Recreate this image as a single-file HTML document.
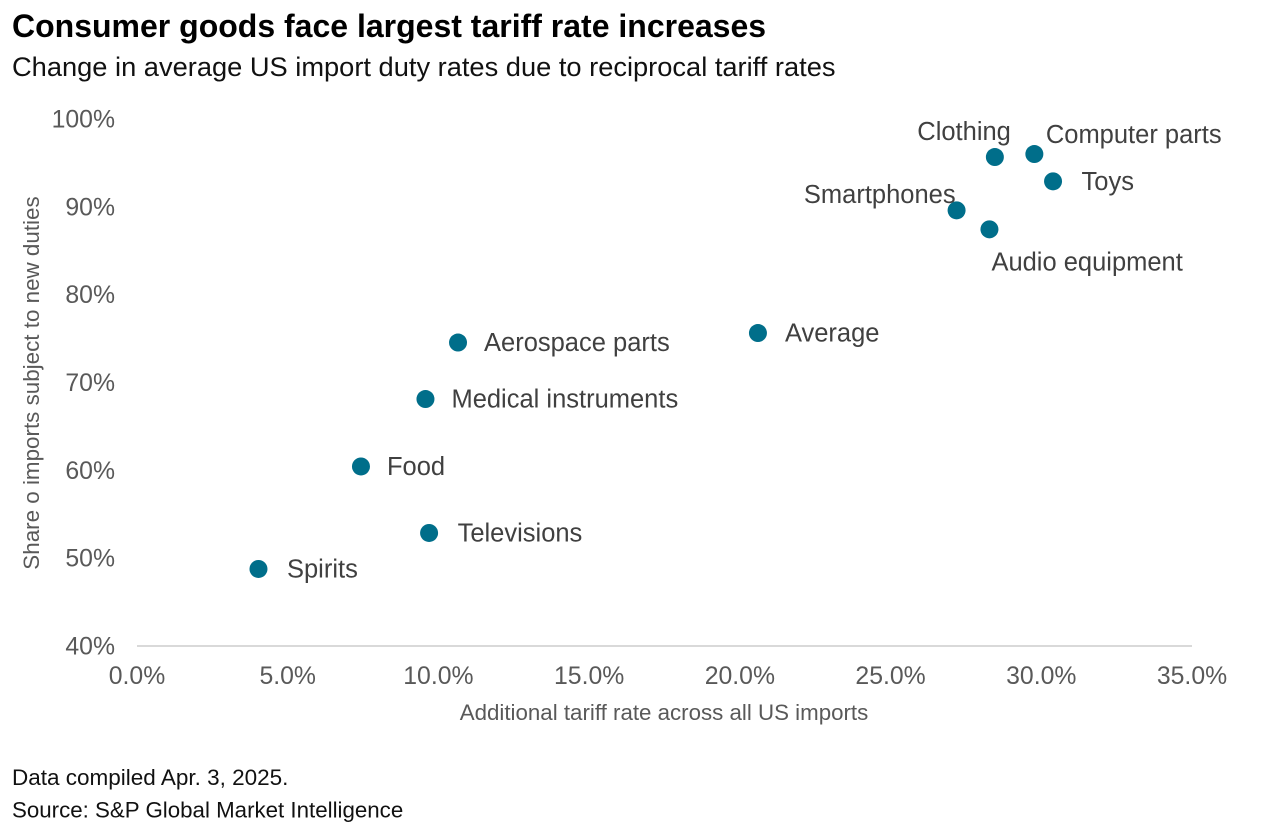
<!DOCTYPE html>
<html>
<head>
<meta charset="utf-8">
<style>
html,body{margin:0;padding:0;background:#fff;}
svg{display:block;font-family:"Liberation Sans",sans-serif;}
</style>
</head>
<body>
<svg id="chart" width="1264" height="830" viewBox="0 0 1264 830">
<text x="12" y="37" font-size="32" font-weight="700" fill="#000">Consumer goods face largest tariff rate increases</text>
<text x="12" y="76" font-size="27.25" fill="#111">Change in average US import duty rates due to reciprocal tariff rates</text>
<line x1="137" y1="646" x2="1192" y2="646" stroke="#d9d9d9" stroke-width="2"></line>
<g id="yticks"></g>
<g id="xticks"></g>
<text x="664" y="720" font-size="22.3" fill="#595959" text-anchor="middle">Additional tariff rate across all US imports</text>
<text transform="translate(39,383) rotate(-90)" font-size="22.4" fill="#595959" text-anchor="middle">Share o imports subject to new duties</text>
<g id="points"></g>
<text x="12" y="785" font-size="22.5" fill="#111">Data compiled Apr. 3, 2025.</text>
<text x="12" y="817.5" font-size="22.3" fill="#111">Source: S&amp;P Global Market Intelligence</text>
</svg>
<script>
const categories = ["Clothing","Computer parts","Toys","Smartphones","Audio equipment","Average","Aerospace parts","Medical instruments","Food","Televisions","Spirits"];
const tariffRates = [28.46,29.77,30.39,27.19,28.28,20.6,10.65,9.57,7.43,9.69,4.03];
const importShares = [95.67,96.01,92.9,89.6,87.44,75.63,74.55,68.12,60.44,52.87,48.77];
const labelPlacement = ["above-left","above-right","right-far","upper-left","below","right","right-near","right-near","right-near","right-far","right-far"];
const xTickValues = [0,5,10,15,20,25,30,35];
const yTickValues = [40,50,60,70,80,90,100];

const NS = "http://www.w3.org/2000/svg";
const xScale = v => 137 + (v / 35) * 1055;
const yScale = v => 646 - ((v - 40) / 60) * 527;

const yticks = document.getElementById("yticks");
yTickValues.forEach(v => {
  const t = document.createElementNS(NS, "text");
  t.setAttribute("x", 115);
  t.setAttribute("y", yScale(v) + 8.5);
  t.setAttribute("font-size", "24.8");
  t.setAttribute("fill", "#595959");
  t.setAttribute("text-anchor", "end");
  
  
  t.textContent = v + "%";
  yticks.appendChild(t);
});

const xticks = document.getElementById("xticks");
xTickValues.forEach(v => {
  const t = document.createElementNS(NS, "text");
  t.setAttribute("x", xScale(v));
  t.setAttribute("y", 684);
  t.setAttribute("font-size", "24.8");
  t.setAttribute("fill", "#595959");
  t.setAttribute("text-anchor", "middle");
  
  
  t.textContent = v.toFixed(1) + "%";
  xticks.appendChild(t);
});

const points = document.getElementById("points");
categories.forEach((name, i) => {
  const cx = xScale(tariffRates[i]);
  const cy = yScale(importShares[i]);
  const c = document.createElementNS(NS, "circle");
  c.setAttribute("cx", cx);
  c.setAttribute("cy", cy);
  c.setAttribute("r", 9);
  c.setAttribute("fill", "#006e8a");
  
  
  points.appendChild(c);

  const t = document.createElementNS(NS, "text");
  const place = labelPlacement[i];
  let lx = cx + 27, ly = cy + 8.5, anchor = "start";
  if (place === "right-near") { lx = cx + 26; }
  if (place === "right-far") { lx = cx + 28.5; }
  if (place === "above-left") { lx = cx + 16; ly = cy - 17; anchor = "end"; }
  if (place === "upper-left") { lx = cx - 1; ly = cy - 7.5; anchor = "end"; }
  if (place === "above-right") { lx = cx + 11.5; ly = cy - 11; }
  if (place === "below") { lx = cx + 2; ly = cy + 41; }
  t.setAttribute("x", lx);
  t.setAttribute("y", ly);
  t.setAttribute("font-size", "25.5");
  t.setAttribute("fill", "#404040");
  t.setAttribute("text-anchor", anchor);
  
  
  t.textContent = name;
  points.appendChild(t);
});
</script>
</body>
</html>
